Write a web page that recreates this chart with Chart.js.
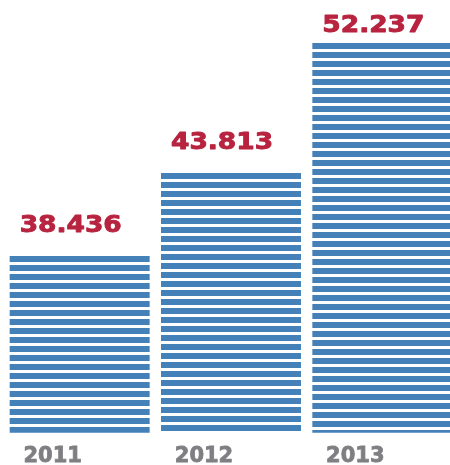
<!DOCTYPE html>
<html><head><meta charset="utf-8">
<style>html,body{margin:0;padding:0;overflow:hidden;background:#fff;width:450px;height:465px}
canvas{display:block}</style>
<script src="https://cdn.jsdelivr.net/npm/chart.js@4"></script>
</head><body>
<canvas id="c" width="458" height="465" style="width:458px;height:465px"></canvas>
<script>
const categories = ['2011', '2012', '2013'];
const values = [38.436, 43.813, 52.237];
const yMin = 27;
const yMax = 55;

const BLUE = '#4581b9', RED = '#b8233f', GRAY = '#7f7f83';
const PERIOD = 9, STRIPE = 6;

function makeStripe() {
  const c = document.createElement('canvas');
  c.width = 4; c.height = PERIOD;
  const g = c.getContext('2d');
  g.fillStyle = BLUE;
  g.fillRect(0, 0, 4, STRIPE);
  return c;
}
const stripeCanvas = makeStripe();
const ctx = document.getElementById('c').getContext('2d');

function barFill(context) {
  const chart = context.chart;
  const ys = chart.scales && chart.scales.y;
  if (!ys || context.dataIndex === undefined) return BLUE;
  const px = ys.getPixelForValue(context.raw);
  if (!isFinite(px)) return BLUE;
  const p = chart.ctx.createPattern(stripeCanvas, 'repeat');
  p.setTransform(new DOMMatrix().translate(0, Math.round(px)));
  return p;
}

const valueLabelPlugin = {
  id: 'valueLabels',
  afterDatasetsDraw(chart) {
    const c = chart.ctx;
    const meta = chart.getDatasetMeta(0);
    c.save();
    c.font = 'bold 23px "DejaVu Sans"';
    c.fillStyle = RED;
    c.strokeStyle = RED;
    c.lineWidth = 0.9;
    c.lineJoin = 'round';
    c.textAlign = 'left';
    c.textBaseline = 'alphabetic';
    meta.data.forEach((bar, i) => {
      const left = bar.x - bar.width / 2 + 10;
      const base = Math.max(bar.y - 24, 32);
      c.save();
      c.translate(left, base);
      c.scale(1.15, 1);
      c.fillText(values[i].toFixed(3), 0, 0);
      c.strokeText(values[i].toFixed(3), 0, 0);
      c.restore();
    });
    c.restore();
  }
};

new Chart(ctx, {
  type: 'bar',
  data: {
    labels: categories,
    datasets: [{
      data: values,
      backgroundColor: barFill,
      borderWidth: 0,
      barPercentage: 0.925,
      categoryPercentage: 1
    }]
  },
  options: {
    responsive: false,
    devicePixelRatio: 1,
    animation: false,
    layout: { padding: { left: 4, right: 0, top: 0, bottom: -15 } },
    plugins: { legend: { display: false }, tooltip: { enabled: false } },
    scales: {
      x: {
        grid: { display: false, drawTicks: false },
        border: { display: false },
        ticks: {
          color: GRAY,
          textStrokeColor: GRAY,
          textStrokeWidth: 0.8,
          font: { family: 'DejaVu Sans', weight: 'bold', size: 21 },
          padding: 11,
          labelOffset: -27,
          maxRotation: 0,
          autoSkip: false
        }
      },
      y: { display: false, min: yMin, max: yMax }
    }
  },
  plugins: [valueLabelPlugin]
});
</script>
</body></html>
